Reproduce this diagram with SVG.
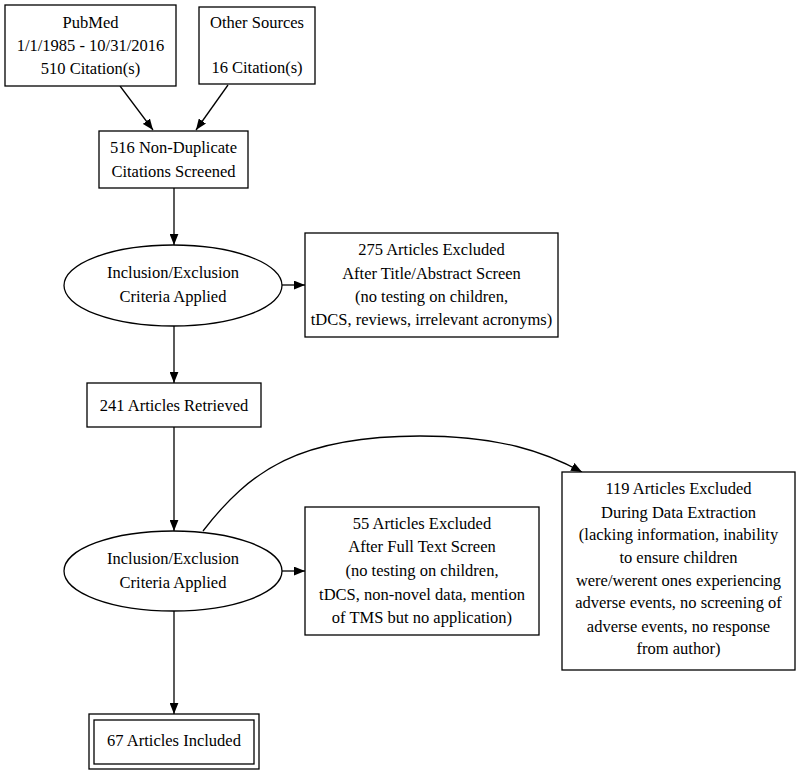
<svg xmlns="http://www.w3.org/2000/svg" width="800" height="775" viewBox="0 0 800 775">
<style>
  text { font-family: "Liberation Serif", "DejaVu Serif", serif; font-size: 16.5px; fill: #000; text-anchor: middle; }
  .shape { fill: #fff; stroke: #000; stroke-width: 1.3; }
  .edge { fill: none; stroke: #000; stroke-width: 1.3; }
</style>
<defs>
  <marker id="arr" viewBox="0 0 10 8" refX="10" refY="4" markerWidth="11" markerHeight="9" markerUnits="userSpaceOnUse" orient="auto">
    <path d="M0,0 L10,4 L0,8 Z" fill="#000"/>
  </marker>
</defs>
<rect width="800" height="775" fill="#fff"/>
<g id="connectors">
  <line class="edge" x1="120" y1="86" x2="153" y2="130" marker-end="url(#arr)"/>
  <line class="edge" x1="228" y1="85" x2="196" y2="130" marker-end="url(#arr)"/>
  <line class="edge" x1="174" y1="188" x2="174" y2="245" marker-end="url(#arr)"/>
  <line class="edge" x1="282" y1="285" x2="305" y2="285" marker-end="url(#arr)"/>
  <line class="edge" x1="174" y1="326" x2="174" y2="383" marker-end="url(#arr)"/>
  <line class="edge" x1="174" y1="427" x2="174" y2="531" marker-end="url(#arr)"/>
  <line class="edge" x1="282" y1="571" x2="305" y2="571" marker-end="url(#arr)"/>
  <line class="edge" x1="174" y1="611" x2="174" y2="714" marker-end="url(#arr)"/>
  <path class="edge" d="M203,531 C250,470 300,436 420,436 C500,436 545,452 582,472" marker-end="url(#arr)"/>
</g>
<g id="pubmed">
  <rect class="shape" x="5" y="5" width="171" height="81"/>
  <text x="90.5" y="28">PubMed</text>
  <text x="90.5" y="51">1/1/1985 - 10/31/2016</text>
  <text x="90.5" y="74">510 Citation(s)</text>
</g>
<g id="other">
  <rect class="shape" x="199" y="7" width="116" height="77"/>
  <text x="257" y="28">Other Sources</text>
  <text x="257" y="73">16 Citation(s)</text>
</g>
<g id="screened">
  <rect class="shape" x="99" y="131" width="149" height="57"/>
  <text x="173.5" y="153">516 Non-Duplicate</text>
  <text x="173.5" y="177">Citations Screened</text>
</g>
<g id="criteria1">
  <ellipse class="shape" cx="173" cy="285.5" rx="109" ry="40.5"/>
  <text x="173" y="278">Inclusion/Exclusion</text>
  <text x="173" y="302">Criteria Applied</text>
</g>
<g id="excluded275">
  <rect class="shape" x="305" y="233" width="253" height="104"/>
  <text x="431.5" y="255">275 Articles Excluded</text>
  <text x="431.5" y="279">After Title/Abstract Screen</text>
  <text x="431.5" y="302">(no testing on children,</text>
  <text x="431.5" y="325">tDCS, reviews, irrelevant acronyms)</text>
</g>
<g id="retrieved">
  <rect class="shape" x="87" y="383" width="174" height="44"/>
  <text x="174" y="411">241 Articles Retrieved</text>
</g>
<g id="criteria2">
  <ellipse class="shape" cx="173" cy="571" rx="109" ry="40"/>
  <text x="173" y="564">Inclusion/Exclusion</text>
  <text x="173" y="588">Criteria Applied</text>
</g>
<g id="excluded55">
  <rect class="shape" x="305" y="507" width="234" height="128"/>
  <text x="422" y="529">55 Articles Excluded</text>
  <text x="422" y="552">After Full Text Screen</text>
  <text x="422" y="576">(no testing on children,</text>
  <text x="422" y="600">tDCS, non-novel data, mention</text>
  <text x="422" y="623">of TMS but no application)</text>
</g>
<g id="excluded119">
  <rect class="shape" x="562" y="472" width="233" height="198"/>
  <text x="678.5" y="494">119 Articles Excluded</text>
  <text x="678.5" y="518">During Data Extraction</text>
  <text x="678.5" y="540">(lacking information, inability</text>
  <text x="678.5" y="563">to ensure children</text>
  <text x="678.5" y="586">were/werent ones experiencing</text>
  <text x="678.5" y="608">adverse events, no screening of</text>
  <text x="678.5" y="632">adverse events, no response</text>
  <text x="678.5" y="654">from author)</text>
</g>
<g id="included">
  <rect class="shape" x="89" y="714" width="170" height="55"/>
  <rect class="shape" x="94" y="720" width="160" height="44"/>
  <text x="174" y="746">67 Articles Included</text>
</g>
</svg>
